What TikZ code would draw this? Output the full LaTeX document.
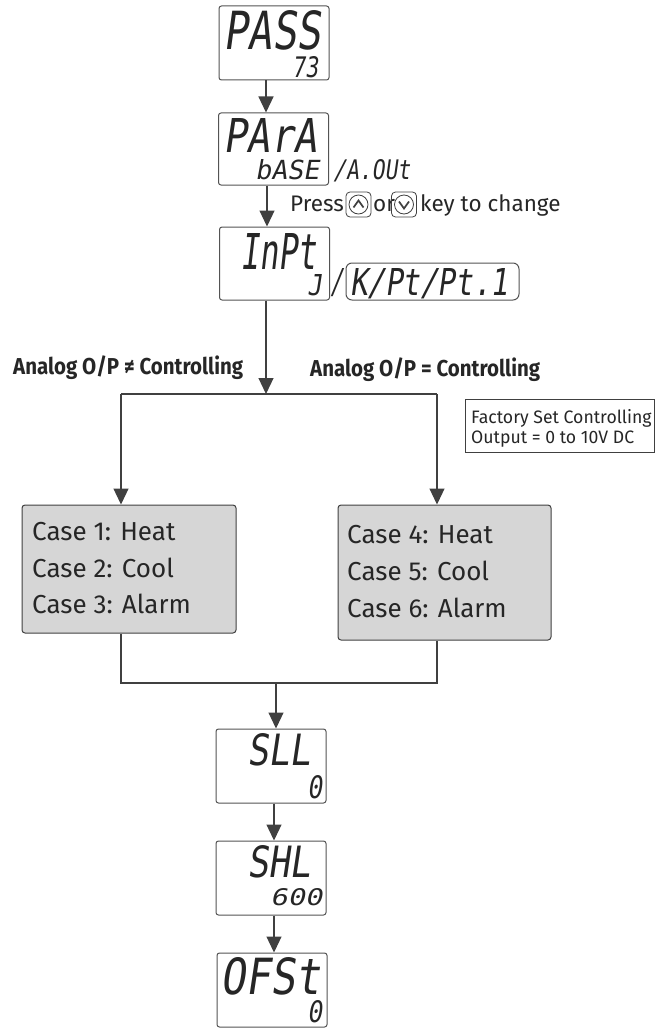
\documentclass[tikz,border=0pt]{standalone}
\usepackage{fontspec}
\usepackage{graphicx}
\setmainfont{Fira Sans}
\newfontfamily\segfont[FakeSlant=0.18]{DejaVu Sans Mono}
\newfontfamily\condb[FakeStretch=0.89]{Fira Sans}
\newfontfamily\condr[FakeStretch=0.98]{Fira Sans}
\usetikzlibrary{arrows.meta}
\definecolor{ln}{HTML}{404040}
\definecolor{casefill}{HTML}{D6D6D6}
\newcommand{\seg}[3]{\resizebox{#1pt}{#2pt}{\segfont #3}}
\tikzset{
  disp/.style={draw=ln!90, line width=1pt, rounded corners=2.5pt, fill=white, minimum width=#1, minimum height=74pt, inner sep=0pt},
  disp/.default=110pt,
  casebox/.style={draw=ln, line width=1pt, rounded corners=3pt, fill=casefill, inner sep=0pt},
  segtxt/.style={inner sep=0pt, anchor=north west, text=black!85},
  arr/.style={draw=ln, line width=1.2pt, -{Triangle[length=16pt,width=15pt]}},
  lnk/.style={draw=ln, line width=1.2pt},
  lbl/.style={inner sep=0pt, anchor=base west, text=black!85},
  btn/.style={draw=ln, line width=0.8pt, rounded corners=4pt, minimum width=25pt, minimum height=25pt, inner sep=0pt}
}
\begin{document}
\begin{tikzpicture}[x=1pt,y=-1pt]
\useasboundingbox (0,0) rectangle (668,1030);

% display boxes
\node[disp] (pass) at (274,43) {};
\node[disp, minimum height=72pt] (para) at (273.5,149) {};
\node[disp, minimum height=73pt] (inpt) at (274.5,263.5) {};
\node[draw=ln!90, line width=1pt, rounded corners=6pt, minimum width=173pt, minimum height=37pt, inner sep=0pt] (kpt) at (432.5,281.5) {};
\node[disp] (sll) at (271,766) {};
\node[disp] (shl) at (271,878) {};
\node[disp] (ofst) at (272,990) {};

% seven segment texts
\node[segtxt] (passT) at (223,10) {\seg{98}{39}{PASS}};
\node[segtxt] (passV) at (292,56) {\seg{26}{21}{73}};
\node[segtxt] (paraT) at (223,118) {\seg{94}{34}{PArA}};
\node[segtxt] (paraV) at (255,159) {\seg{64}{20}{bASE}};
\node[segtxt] (paraO) at (333,159) {\seg{77}{20}{/A.OUt}};
\node[segtxt] (inptT) at (240,233) {\seg{76}{36}{InPt}};
\node[segtxt] (inptV) at (307,274) {\seg{15}{21}{J}};
\node[segtxt] (inptS) at (330,268) {\seg{13}{25}{/}};
\node[segtxt] (kptT) at (350,268) {\seg{158}{27}{K/Pt/Pt.1}};
\node[segtxt] (sllT) at (247,733) {\seg{64}{32}{SLL}};
\node[segtxt] (sllV) at (307,775) {\seg{15}{23}{0}};
\node[segtxt] (shlT) at (247,845) {\seg{64}{32}{SHL}};
\node[segtxt] (shlV) at (270,888) {\seg{52}{17}{600}};
\node[segtxt] (ofstT) at (220,957) {\seg{100}{37}{OFSt}};
\node[segtxt] (ofstV) at (307,1000) {\seg{15}{22}{0}};

% press text with buttons
\node[lbl, font=\fontsize{22.5}{26}\selectfont] (press) at (290,211) {Press};
\node[btn] (bup) at (358.5,204.5) {};
\draw[ln, line width=0.8pt] (bup.center) circle (9.5pt);
\draw[ln, line width=1.7pt] ([xshift=-5pt,yshift=-3pt]bup.center) -- ([yshift=4pt]bup.center) -- ([xshift=5pt,yshift=-3pt]bup.center);
\node[lbl, font=\fontsize{22.5}{26}\selectfont] (or) at (373,211) {or};
\node[btn] (bdn) at (404,204.5) {};
\draw[ln, line width=0.8pt] (bdn.center) circle (9.5pt);
\draw[ln, line width=1.7pt] ([xshift=-5pt,yshift=3pt]bdn.center) -- ([yshift=-4pt]bdn.center) -- ([xshift=5pt,yshift=3pt]bdn.center);
\node[lbl, font=\fontsize{22.5}{26}\selectfont] (key) at (420,211) {key to change};

% branch labels
\node[lbl, font=\condb\bfseries\fontsize{23}{26}\selectfont] (labL) at (13,374) {Analog O/P ≠ Controlling};
\node[lbl, font=\condb\bfseries\fontsize{23}{26}\selectfont] (labR) at (310,376) {Analog O/P = Controlling};

% factory note
\node[draw=ln, line width=1pt, minimum width=189pt, minimum height=53pt, inner sep=0pt] (fact) at (559.5,425.5) {};
\node[lbl, font=\condr\fontsize{18}{22}\selectfont] (factA) at (471,423) {Factory Set Controlling};
\node[lbl, font=\condr\fontsize{18}{22}\selectfont] (factB) at (471,443) {Output = 0 to 10V DC};

% case boxes
\node[casebox, minimum width=214pt, minimum height=128pt] (caseL) at (129,569) {};
\node[casebox, minimum width=213pt, minimum height=135pt] (caseR) at (444.5,572.5) {};
\node[lbl, font=\fontsize{26}{30}\selectfont] (c1) at (32,540) {Case 1: Heat};
\node[lbl, font=\fontsize{26}{30}\selectfont] (c2) at (32,577) {Case 2: Cool};
\node[lbl, font=\fontsize{26}{30}\selectfont] (c3) at (32,613) {Case 3: Alarm};
\node[lbl, font=\fontsize{26}{30}\selectfont] (c4) at (347,543) {Case 4: Heat};
\node[lbl, font=\fontsize{26}{30}\selectfont] (c5) at (347,580) {Case 5: Cool};
\node[lbl, font=\fontsize{26}{30}\selectfont] (c6) at (347,617) {Case 6: Alarm};

% connector coordinates
\coordinate (split) at (266,394);
\coordinate (bl) at (121,394);
\coordinate (br) at (437,394);
\coordinate (jl) at (121,683);
\coordinate (jr) at (437,683);
\coordinate (join) at (276,683);

% connectors
\draw[arr] ([xshift=-8pt]pass.south) -- ([xshift=-8pt]pass.south |- para.north);
\draw[arr] ([xshift=-6.5pt]para.south) -- ([xshift=-6.5pt]para.south |- inpt.north);
\draw[arr] (split |- inpt.south) -- (split);
\draw[lnk] (bl) -- (br);
\draw[arr] (bl) -- (bl |- caseL.north);
\draw[arr] (br) -- (br |- caseR.north);
\draw[lnk] (jl |- caseL.south) -- (jl) -- (jr) -- (jr |- caseR.south);
\draw[arr] (join) -- (join |- sll.north);
\draw[arr] ([xshift=3pt]sll.south) -- ([xshift=3pt]sll.south |- shl.north);
\draw[arr] ([xshift=3pt]shl.south) -- ([xshift=3pt]shl.south |- ofst.north);
\end{tikzpicture}
\end{document}
